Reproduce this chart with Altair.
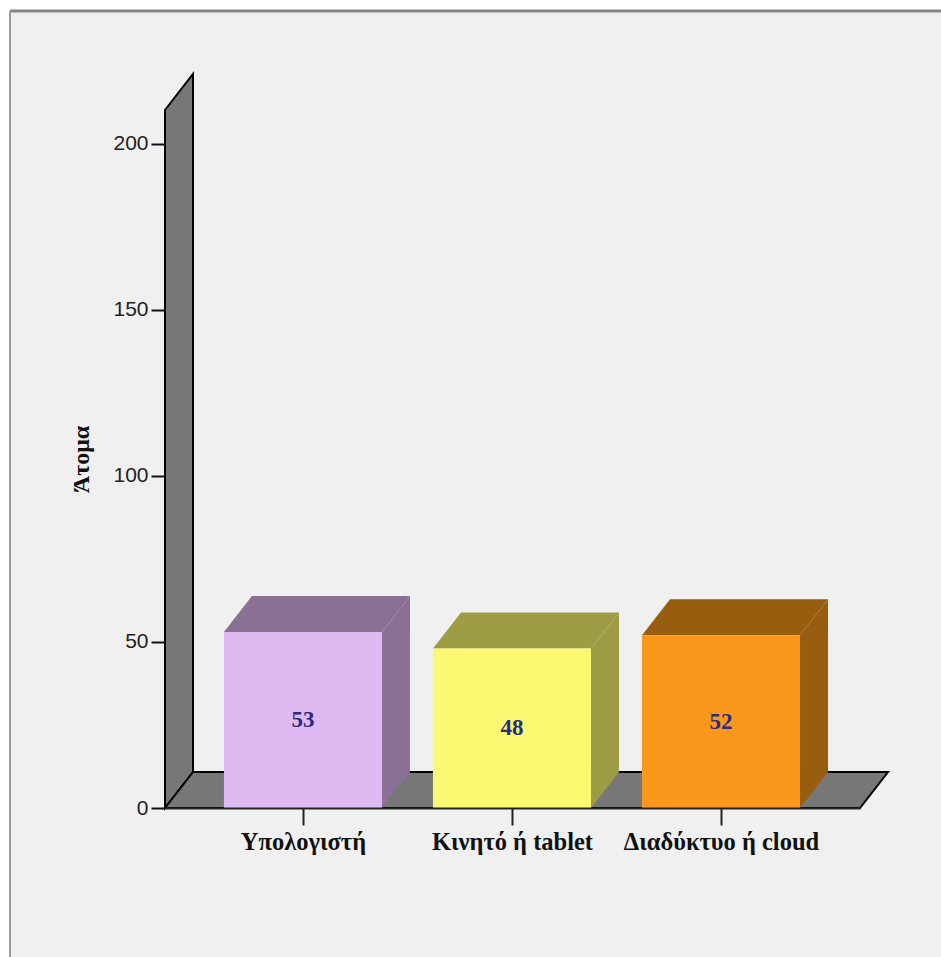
import altair as alt
import pandas as pd

categories = ["Υπολογιστή", "Κινητό ή tablet", "Διαδύκτυο ή cloud"]
counts = [53, 48, 52]
front_colors = ["#dfb9f2", "#fbf872", "#fb981c"]
shade_colors = ["#8a7095", "#9e9c45", "#975e10"]
y_ticks = [0, 50, 100, 150, 200]

# Oblique projection of the third dimension, in axis units
DEPTH_X = 0.134
DEPTH_Y = 10.84
HALF_BAR = 0.378
X_MIN, X_MAX = 0.34, 3.665
Y_MAX = 210.2
WIDTH, HEIGHT = 695, 698

x_scale = alt.Scale(domain=[X_MIN, X_MAX], nice=False, zero=False)
y_scale = alt.Scale(domain=[0, Y_MAX], nice=False)
FRONT = [i + 1 for i in range(len(categories))]

# One axis definition shared by all layers, drawn above the marks
label_expr = "[" + ",".join(f"'{c}'" for c in categories) + "][datum.value - 1]"
x_axis = alt.Axis(
    zindex=1, values=FRONT, labelExpr=label_expr, grid=False, domainColor="#222222", domainWidth=2,
    tickColor="#222222", tickWidth=2, tickSize=17, labelFont="Liberation Serif",
    labelFontWeight="bold", labelFontSize=24.5, labelColor="#111111", labelPadding=5,
    labelFlush=False, labelOverlap=False, labelBound=False, labelLimit=400,
)
y_axis = alt.Axis(
    zindex=1, values=y_ticks, grid=False, domain=False, tickColor="#111111", tickWidth=2, tickSize=14,
    labelFont="Liberation Sans", labelFontSize=21, labelColor="#222222", labelPadding=3,
    titleFont="Liberation Serif", titleFontWeight="bold", titleFontSize=24,
    titleColor="#111111", titleX=-72, titleY=349,
)


def x_enc(field, **kw):
    return alt.X(field, scale=x_scale, axis=x_axis, title=None, **kw)


def y_enc(field, **kw):
    return alt.Y(field, scale=y_scale, axis=y_axis, title="Άτομα", **kw)


# Panel background and its top and left edge
backdrop = alt.Chart(pd.DataFrame({"a": [0]})).mark_rect(color="#f0f0f0").encode(
    x=alt.value(-155), x2=alt.value(776), y=alt.value(-99), y2=alt.value(847)
)
edge_top = alt.Chart(pd.DataFrame({"a": [0]})).mark_rule(color="#858585", strokeWidth=3).encode(
    x=alt.value(-155), x2=alt.value(776), y=alt.value(-99)
)
edge_left = alt.Chart(pd.DataFrame({"a": [0]})).mark_rule(color="#9a9a9a", strokeWidth=2).encode(
    x=alt.value(-155), y=alt.value(-99), y2=alt.value(847)
)

# Back wall and floor of the box
wall = alt.Chart(pd.DataFrame({
    "x": [X_MIN, X_MIN + DEPTH_X],
    "y": [0, DEPTH_Y],
    "y2": [Y_MAX, Y_MAX + DEPTH_Y],
})).mark_area(color="#777777", stroke="black", strokeWidth=2, opacity=1).encode(
    x=x_enc("x:Q"), y=y_enc("y:Q", stack=None), y2="y2:Q"
)
floor = alt.Chart(pd.DataFrame({
    "y": [0, DEPTH_Y],
    "x": [X_MIN, X_MIN + DEPTH_X],
    "x2": [X_MAX, X_MAX + DEPTH_X],
})).mark_area(color="#777777", stroke="black", strokeWidth=2, orient="horizontal").encode(
    y=y_enc("y:Q"), x=x_enc("x:Q", stack=None), x2="x2:Q"
)

# Top and right faces of each bar
top_rows, side_rows = [], []
for pos, value, shade in zip(FRONT, counts, shade_colors):
    top_rows += [
        {"face": pos, "shade": shade, "y": value, "x": pos - HALF_BAR, "x2": pos + HALF_BAR},
        {"face": pos, "shade": shade, "y": value + DEPTH_Y,
         "x": pos - HALF_BAR + DEPTH_X, "x2": pos + HALF_BAR + DEPTH_X},
    ]
    side_rows += [
        {"face": pos, "shade": shade, "x": pos + HALF_BAR, "y": 0, "y2": value},
        {"face": pos, "shade": shade, "x": pos + HALF_BAR + DEPTH_X,
         "y": DEPTH_Y, "y2": value + DEPTH_Y},
    ]

tops = alt.Chart(pd.DataFrame(top_rows)).mark_area(orient="horizontal", opacity=1).encode(
    y=y_enc("y:Q"),
    x=x_enc("x:Q", stack=None),
    x2="x2:Q",
    color=alt.Color("shade:N", scale=None),
    detail="face:N",
)
sides = alt.Chart(pd.DataFrame(side_rows)).mark_area(opacity=1).encode(
    x=x_enc("x:Q"),
    y=y_enc("y:Q", stack=None),
    y2="y2:Q",
    color=alt.Color("shade:N", scale=None),
    detail="face:N",
)

bars_df = pd.DataFrame({
    "pos": FRONT,
    "left": [p - HALF_BAR for p in FRONT],
    "right": [p + HALF_BAR for p in FRONT],
    "count": counts,
    "mid": [c / 2 for c in counts],
    "base": [0 for _ in counts],
    "front": front_colors,
})
fronts = alt.Chart(bars_df).mark_rect(opacity=1).encode(
    x=x_enc("left:Q"),
    x2="right:Q",
    y=y_enc("count:Q"),
    y2="base:Q",
    color=alt.Color("front:N", scale=None),
)
labels = alt.Chart(bars_df).mark_text(
    font="Liberation Serif", fontWeight="bold", fontSize=23, color="#2b2b80", baseline="middle"
).encode(
    x=x_enc("pos:Q"),
    y=y_enc("mid:Q"),
    text="count:Q",
)

chart = alt.layer(
    backdrop, edge_top, edge_left, wall, floor, tops, sides, fronts, labels
).properties(
    width=WIDTH,
    height=HEIGHT,
    background="white",
    padding={"left": 165, "top": 110, "right": 81, "bottom": 149},
    autosize=alt.AutoSizeParams(type="none"),
).configure_view(stroke=None)

chart.save("out.html", embed_options={"renderer": "svg", "actions": False})
